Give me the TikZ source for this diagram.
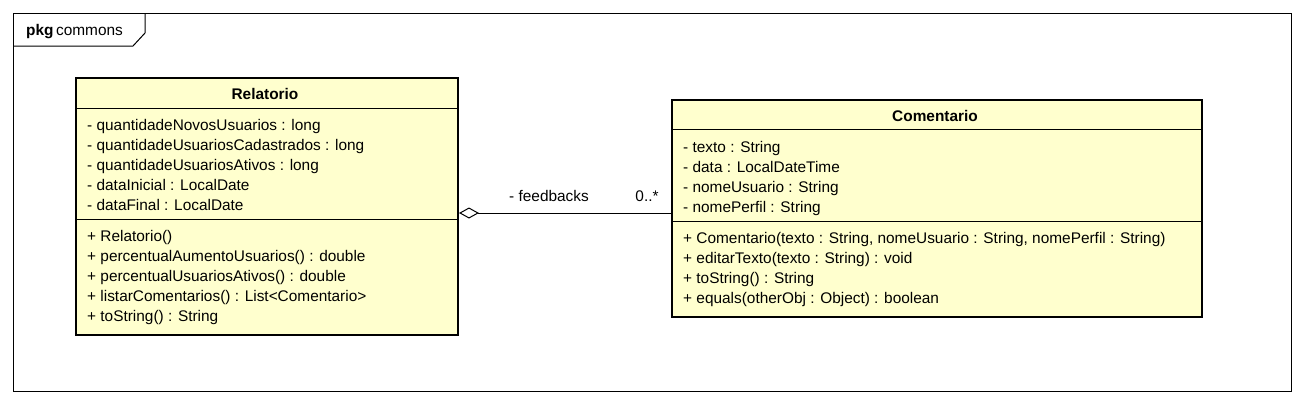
\documentclass[tikz,border=0pt]{standalone}
\usepackage{fontspec}
\setmainfont{Liberation Sans}
\usetikzlibrary{arrows.meta}
\definecolor{classfill}{HTML}{FFFFCE}
\tikzset{
  txt/.style={font=\fontsize{15.4}{17}\selectfont},
  classbox/.style={draw=black, line width=2pt, fill=classfill, anchor=north west, inner sep=0pt},
  member/.style={txt, anchor=base west, inner sep=0pt},
  ctitle/.style={anchor=base, inner sep=0pt, font=\fontsize{15.4}{17}\selectfont\bfseries},
  divider/.style={draw=black, line width=1pt},
  assoc/.style={draw=black, line width=1pt},
  lbl/.style={txt, anchor=base, inner sep=0pt},
}
\begin{document}
\begin{tikzpicture}[x=1pt,y=1pt]
\useasboundingbox (0,0) rectangle (1304,-405);
\fill[white] (0,0) rectangle (1304,-405);
% package frame
\draw[line width=1pt] (13,-13) rectangle (1291,-391);
\draw[line width=1pt] (13,-46) -- (133,-46) -- (145,-33) -- (145,-13);
\node[txt, anchor=base west, inner sep=0pt] (pkg) at (26,-35.5) {\textbf{pkg}\,commons};
% Relatorio
\node[classbox, minimum width=382, minimum height=257] (rel) at (75,-77) {};
\draw[divider] (75,-108) -- (457,-108);
\draw[divider] (75,-219) -- (457,-219);
\node[ctitle] (relt) at (265,-99) {Relatorio};
\node[member] (r1) at (87,-130) {- quantidadeNovosUsuarios : long};
\node[member] (r2) at (87,-150) {- quantidadeUsuariosCadastrados : long};
\node[member] (r3) at (87,-170) {- quantidadeUsuariosAtivos : long};
\node[member] (r4) at (87,-190) {- dataInicial : LocalDate};
\node[member] (r5) at (87,-210) {- dataFinal : LocalDate};
\node[member] (r6) at (87,-241) {+ Relatorio()};
\node[member] (r7) at (87,-261) {+ percentualAumentoUsuarios() : double};
\node[member] (r8) at (87,-281) {+ percentualUsuariosAtivos() : double};
\node[member] (r9) at (87,-301) {+ listarComentarios() : List<Comentario>};
\node[member] (r10) at (87,-321) {+ toString() : String};
% Comentario
\node[classbox, minimum width=530, minimum height=217] (com) at (671,-99) {};
\draw[divider] (671,-129) -- (1201,-129);
\draw[divider] (671,-221) -- (1201,-221);
\node[ctitle] (comt) at (935,-121) {Comentario};
\node[member] (c1) at (683,-152) {- texto : String};
\node[member] (c2) at (683,-172) {- data : LocalDateTime};
\node[member] (c3) at (683,-192) {- nomeUsuario : String};
\node[member] (c4) at (683,-212) {- nomePerfil : String};
\node[member] (c5) at (683,-243) {+ Comentario(texto : String, nomeUsuario : String, nomePerfil : String)};
\node[member] (c6) at (683,-263) {+ editarTexto(texto : String) : void};
\node[member] (c7) at (683,-283) {+ toString() : String};
\node[member] (c8) at (683,-303) {+ equals(otherObj : Object) : boolean};
% association
\coordinate (aS) at ([yshift=-6.5]rel.east);
\coordinate (aE) at (com.west |- aS);
\draw[assoc, {Diamond[open,length=20,width=11]}-] (aS) -- (aE);
\node[lbl] (l1) at (549,-201) {- feedbacks};
\node[lbl] (l2) at (647,-201) {0..*};
\end{tikzpicture}
\end{document}
